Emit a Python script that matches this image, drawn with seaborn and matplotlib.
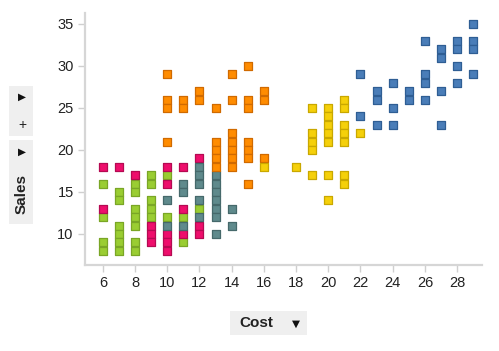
import matplotlib
matplotlib.use("Agg")
import matplotlib.pyplot as plt
import seaborn as sns
import pandas as pd
from matplotlib.patches import Rectangle

# Datos por grupo de color (Cost, Sales)
green_cost = [6, 6, 6, 6, 7, 7, 7, 7, 7, 7, 8, 8, 8, 8, 8, 8, 8, 9, 9, 9, 9, 9, 10, 10, 11, 11, 12]
green_sales = [16, 12, 9, 8, 15, 14, 11, 10, 9, 8, 16, 15, 13, 12, 11, 9, 8, 17, 16, 14, 13, 12, 17, 12, 12, 9, 13]

pink_cost = [6, 6, 7, 8, 9, 9, 9, 10, 10, 10, 10, 10, 11, 11, 11, 12, 12, 12]
pink_sales = [18, 13, 18, 17, 11, 10, 9, 18, 16, 10, 9, 8, 18, 13, 10, 19, 11, 10]

gray_cost = [10, 10, 11, 11, 11, 12, 12, 12, 12, 12, 13, 13, 13, 13, 13, 13, 13, 14, 14]
gray_sales = [14, 11, 16, 15, 11, 18, 17, 16, 14, 12, 17, 16, 15, 14, 13, 12, 10, 13, 11]

orange_cost = [10, 10, 10, 10, 11, 11, 12, 12, 13, 13, 13, 13, 13,
               14, 14, 14, 14, 14, 14, 14, 15, 15, 15, 15, 15, 15, 15, 16, 16, 16]
orange_sales = [29, 26, 25, 21, 26, 25, 27, 26, 25, 21, 20, 19, 18,
                29, 26, 22, 21, 20, 19, 18, 30, 26, 25, 21, 20, 19, 16, 27, 26, 19]

yellow_cost = [16, 18, 19, 19, 19, 19, 19, 20, 20, 20, 20, 20, 20, 20,
               21, 21, 21, 21, 21, 21, 21, 22]
yellow_sales = [18, 18, 25, 22, 21, 20, 17, 25, 24, 23, 22, 21, 17, 14,
                26, 25, 23, 22, 21, 17, 16, 22]

blue_cost = [22, 22, 23, 23, 23, 24, 24, 24, 25, 25, 26, 26, 26, 26,
             27, 27, 27, 27, 28, 28, 28, 28, 29, 29, 29, 29]
blue_sales = [29, 24, 27, 26, 23, 28, 25, 23, 27, 26, 33, 29, 28, 26,
              32, 31, 27, 23, 33, 32, 30, 28, 35, 33, 32, 29]

groups = [
    ("green", green_cost, green_sales, "#9ACD32", "#7AA626"),
    ("pink", pink_cost, pink_sales, "#EE0E6C", "#B50A52"),
    ("gray", gray_cost, gray_sales, "#5F8A8C", "#46696B"),
    ("orange", orange_cost, orange_sales, "#FF8C00", "#D06A00"),
    ("yellow", yellow_cost, yellow_sales, "#F5D00A", "#C9A800"),
    ("blue", blue_cost, blue_sales, "#4A7DB8", "#2F5E94"),
]

x_ticks = [6, 8, 10, 12, 14, 16, 18, 20, 22, 24, 26, 28]
y_ticks = [10, 15, 20, 25, 30, 35]

sns.set_style("white")
plt.rcParams['font.family'] = ['Liberation Sans', 'DejaVu Sans']

fig = plt.figure(figsize=(4.99, 3.51), dpi=100)
ax = fig.add_axes([0.170, 0.245, 0.796, 0.718])

for name, xs, ys, fill, edge in groups:
    df = pd.DataFrame({"Cost": xs, "Sales": ys})
    sns.scatterplot(data=df, x="Cost", y="Sales", ax=ax, marker="s", s=40,
                    color=fill, edgecolor=edge, linewidth=0.9, legend=False)

ax.set_xlim(4.88, 29.55)
ax.set_ylim(6.31, 36.3)
ax.set_xticks(x_ticks)
ax.set_yticks(y_ticks)
ax.set_xlabel("")
ax.set_ylabel("")

for side in ["top", "right"]:
    ax.spines[side].set_visible(False)
for side in ["left", "bottom"]:
    ax.spines[side].set_color("#d6d6d6")
    ax.spines[side].set_linewidth(1.6)

ax.tick_params(axis="both", length=5, width=1, color="#cfcfcf", labelsize=10.5,
               labelcolor="#222222", pad=3, direction="out")
ax.tick_params(axis="x", bottom=True)
ax.tick_params(axis="y", left=True)

# Etiqueta del eje X en caja gris
def px(x, y):
    return x / 499, 1 - y / 351

bx, by = px(230, 335)
fig.patches.append(Rectangle((bx, by), 77 / 499, 24 / 351, transform=fig.transFigure,
                             facecolor="#efefef", edgecolor="none", zorder=0))
tx, ty = px(256, 323)
fig.text(tx, ty, "Cost", fontsize=11, fontweight="bold", color="#222222",
         ha="center", va="center")
tx, ty = px(296, 324)
fig.text(tx, ty, "\u25BC", fontsize=7.5, color="#111111", ha="center", va="center",
         family="DejaVu Sans")

# Cajas del eje Y
bx, by = px(9, 136)
fig.patches.append(Rectangle((bx, by), 24 / 499, 50 / 351, transform=fig.transFigure,
                             facecolor="#efefef", edgecolor="none", zorder=0))
bx, by = px(9, 224)
fig.patches.append(Rectangle((bx, by), 24 / 499, 84 / 351, transform=fig.transFigure,
                             facecolor="#efefef", edgecolor="none", zorder=0))
tx, ty = px(22, 97)
fig.text(tx, ty, "\u25B6", fontsize=7.5, color="#111111", ha="center", va="center",
         family="DejaVu Sans")
tx, ty = px(22, 125)
fig.text(tx, ty, "+", fontsize=10, color="#222222", ha="center", va="center")
tx, ty = px(22, 152)
fig.text(tx, ty, "\u25B6", fontsize=7.5, color="#111111", ha="center", va="center",
         family="DejaVu Sans")
tx, ty = px(22, 194)
fig.text(tx, ty, "Sales", fontsize=11, fontweight="bold", color="#222222",
         ha="center", va="center", rotation=90)

fig.savefig("out.png", dpi=100)
